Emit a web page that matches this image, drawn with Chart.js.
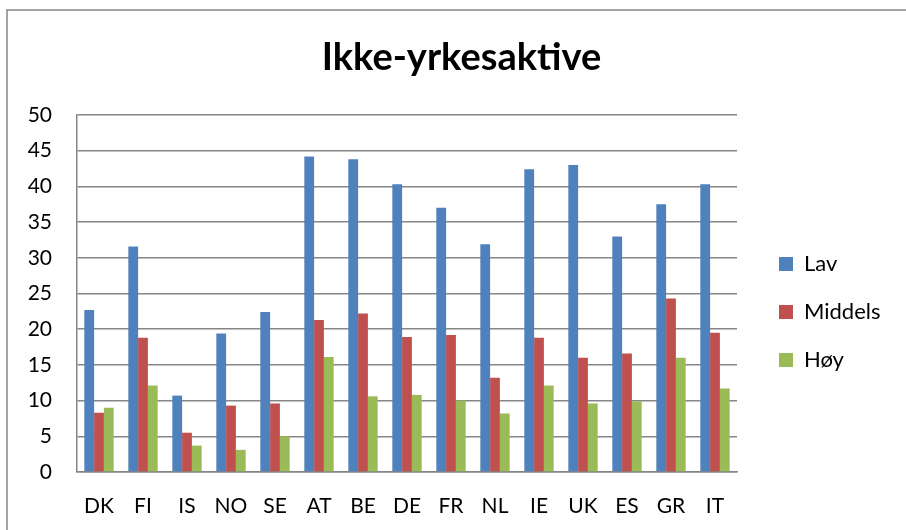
<!DOCTYPE html>
<html>
<head>
<meta charset="utf-8">
<script src="https://cdn.jsdelivr.net/npm/chart.js@4/dist/chart.umd.min.js"></script>
<style>
  html, body { margin: 0; padding: 0; background: #ffffff; }
  #wrap { width: 906px; height: 530px; position: relative; }
</style>
</head>
<body>
<div id="wrap"><canvas id="c" width="906" height="530"></canvas></div>
<script>
const chartTitle = "Ikke-yrkesaktive";
const categories = ["DK", "FI", "IS", "NO", "SE", "AT", "BE", "DE", "FR", "NL", "IE", "UK", "ES", "GR", "IT"];
const seriesNames = ["Lav", "Middels", "Høy"];
const lav     = [22.7, 31.6, 10.7, 19.4, 22.4, 44.2, 43.8, 40.3, 37.0, 31.9, 42.4, 43.0, 33.0, 37.5, 40.3];
const middels = [8.3, 18.8, 5.5, 9.3, 9.6, 21.3, 22.2, 18.9, 19.2, 13.2, 18.8, 16.0, 16.6, 24.3, 19.5];
const hoy     = [9.0, 12.1, 3.7, 3.1, 5.0, 16.1, 10.6, 10.8, 10.0, 8.2, 12.1, 9.6, 9.9, 16.0, 11.7];
const yTicks = [0, 5, 10, 15, 20, 25, 30, 35, 40, 45, 50];

const colors = ["#4F81BD", "#C0504D", "#9BBB59"];
const FONT = "Lato, 'Open Sans', 'Liberation Sans', sans-serif";

const frame = {
  id: 'frame',
  beforeDraw(chart) {
    const ctx = chart.ctx;
    ctx.save();
    ctx.fillStyle = '#ffffff';
    ctx.fillRect(0, 0, chart.width, chart.height);
    ctx.strokeStyle = '#868686';
    ctx.lineWidth = 1.5;
    ctx.strokeRect(7, 10, chart.width + 20, chart.height + 20);
    ctx.restore();
  }
};

const legendPlacer = {
  id: 'legendPlacer',
  beforeLayout(chart) {
    const lg = chart.legend;
    if (lg && !lg._patched) {
      const orig = lg.fit;
      lg.fit = function () { orig.call(this); this.width = 169; };
      lg._patched = true;
    }
  },
  afterLayout(chart) {
    const lg = chart.legend;
    if (!lg) return;
    const w = lg.right - lg.left;
    lg.left = 753; lg.right = 753 + w;
    const h = lg.bottom - lg.top;
    lg.top = 227; lg.bottom = 227 + h;
  }
};

new Chart(document.getElementById('c'), {
  type: 'bar',
  data: {
    labels: categories,
    datasets: [
      { label: seriesNames[0], data: lav, backgroundColor: colors[0] },
      { label: seriesNames[1], data: middels, backgroundColor: colors[1] },
      { label: seriesNames[2], data: hoy, backgroundColor: colors[2] }
    ]
  },
  options: {
    responsive: false,
    animation: false,
    devicePixelRatio: 1,
    layout: { padding: { left: 17, right: 0, top: 0, bottom: 0 } },
    datasets: { bar: { categoryPercentage: 0.667, barPercentage: 1.0, borderWidth: 0 } },
    plugins: {
      title: {
        display: true,
        text: chartTitle,
        color: '#000000',
        font: { family: FONT, size: 38, weight: 'bold' },
        padding: { top: 35, bottom: 34.4 }
      },
      legend: {
        display: true,
        position: 'right',
        align: 'start',
        labels: {
          color: '#000000',
          font: { family: FONT, size: 22 },
          boxWidth: 14,
          boxHeight: 14,
          padding: 26
        }
      },
      tooltip: { enabled: false }
    },
    scales: {
      x: {
        grid: { display: false, drawTicks: false },
        border: { display: true, color: '#868686', width: 1.5 },
        ticks: { color: '#000000', font: { family: FONT, size: 21 }, padding: 22, maxRotation: 0, autoSkip: false },
        afterFit(scale) { scale.height = 58; }
      },
      y: {
        min: 0,
        max: 50,
        afterBuildTicks(scale) { scale.ticks = yTicks.map(v => ({ value: v })); },
        grid: { color: '#868686', lineWidth: 1.5, drawTicks: false },
        border: { display: true, color: '#868686', width: 1.5 },
        ticks: { color: '#000000', font: { family: FONT, size: 21 }, padding: 25 },
        afterFit(scale) { scale.width = 60; }
      }
    }
  },
  plugins: [frame, legendPlacer]
});
</script>
</body>
</html>
